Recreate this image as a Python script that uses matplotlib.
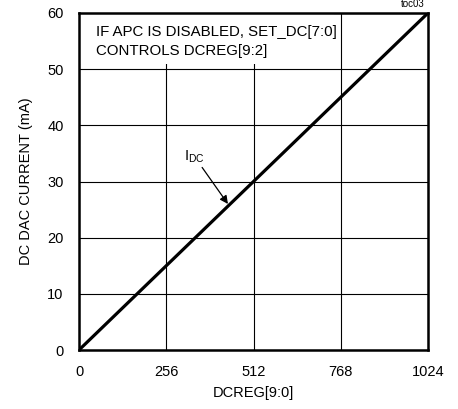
import matplotlib
matplotlib.use("Agg")
import matplotlib.pyplot as plt
from matplotlib.patches import Rectangle

plt.rcParams['font.family'] = ['Liberation Sans', 'DejaVu Sans']

dcreg = [0, 1024]
current = [0, 60]
xticks = [0, 256, 512, 768, 1024]
yticks = [0, 10, 20, 30, 40, 50, 60]

fig = plt.figure(figsize=(4.58, 4.09), dpi=100)
ax = fig.add_axes([79/458, 1-350/409, 349/458, 337/409])
ax.plot(dcreg, current, color='black', lw=2.3, solid_capstyle='butt', zorder=3)
ax.set_xlim(0, 1024)
ax.set_ylim(0, 60)
ax.set_xticks(xticks)
ax.set_yticks(yticks)
ax.tick_params(axis='x', length=0, labelsize=10.5, pad=11)
ax.tick_params(axis='y', length=0, labelsize=10.5, pad=11)
ax.grid(True, color='black', lw=0.8)
for s in ax.spines.values():
    s.set_linewidth(1.8)
ax.set_xlabel('DCREG[9:0]', fontsize=10.5, labelpad=5)
ax.set_ylabel('DC DAC CURRENT (mA)', fontsize=10.5, labelpad=10)

ax.add_patch(Rectangle((0, 0.85), 0.73, 0.15, transform=ax.transAxes,
                       fc='white', ec='none', zorder=2))
ax.text(0.049, 0.965, 'IF APC IS DISABLED, SET_DC[7:0]\nCONTROLS DCREG[9:2]',
        transform=ax.transAxes, ha='left', va='top', fontsize=10.8, linespacing=1.45,
        zorder=2.5)
ax.annotate('I$_{\\mathregular{DC}}$', xy=(437, 26.0), xytext=(308, 33.0),
            fontsize=10.5, ha='left', va='bottom',
            arrowprops=dict(arrowstyle='-|>', color='black', lw=0.9,
                            mutation_scale=12, shrinkA=0, shrinkB=0))
fig.text(425/458, 1-4/409, 'toc03', fontsize=7, ha='right', va='center')
fig.savefig('out.png', dpi=100)
